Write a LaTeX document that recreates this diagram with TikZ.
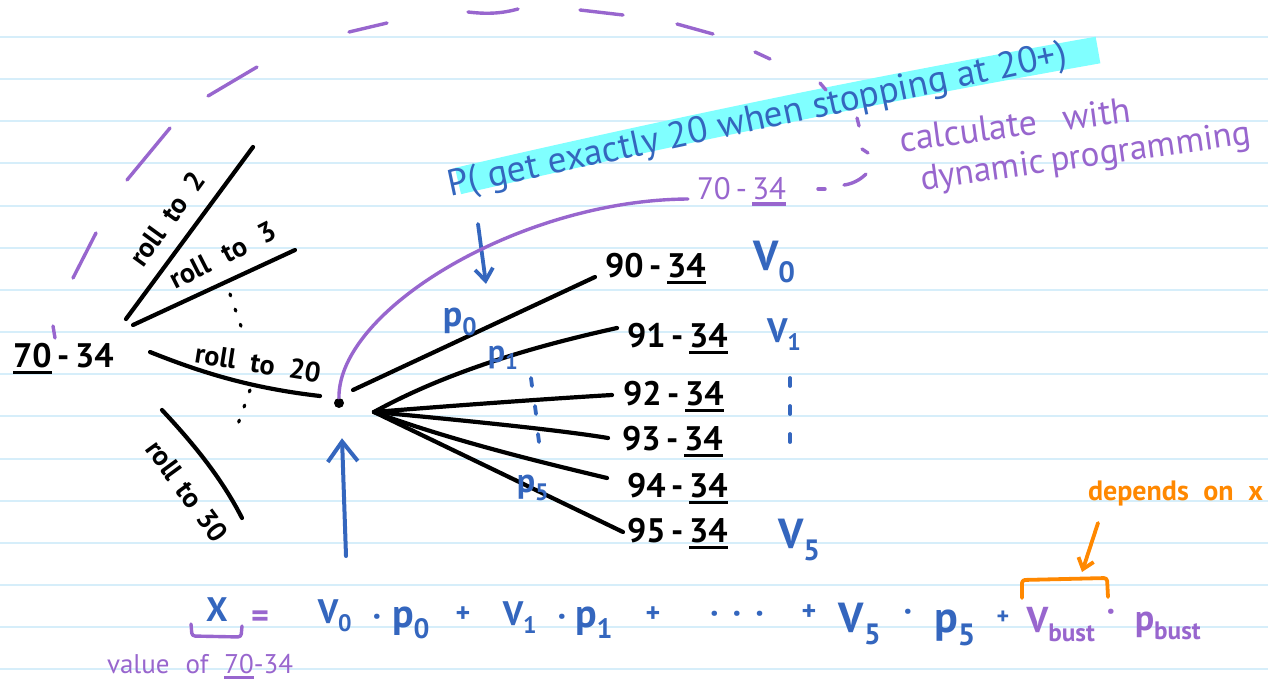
\documentclass[tikz,border=0pt]{standalone}
\usepackage{fontspec}
\setmainfont{PT Sans}
\usetikzlibrary{arrows.meta,calc}
\definecolor{inkb}{RGB}{52,102,190}
\definecolor{inkp}{RGB}{152,102,206}
\definecolor{hilite}{RGB}{128,255,255}
\definecolor{inko}{RGB}{255,136,0}
\definecolor{rulecol}{RGB}{214,238,250}
\newcommand{\mkul}[1]{\setbox0=\hbox{#1}\leavevmode\rlap{\rule[-0.22em]{\wd0}{0.11em}}\box0}
\newcommand{\fs}[1]{\fontsize{#1}{#1}\selectfont}
\newcommand{\mysub}[1]{\textsubscript{#1}}
\newcommand{\wbox}[2]{\makebox[#1][s]{#2}}
\begin{document}
\begin{tikzpicture}[x=1pt,y=-1pt,
  blk/.style={draw=black, line width=4.2pt, line cap=round, line join=round},
  bpen/.style={draw=inkb, line width=3.8pt, line cap=round, line join=round},
  ppen/.style={draw=inkp, line width=3.4pt, line cap=round, line join=round},
  opn/.style={draw=inko, line width=3.8pt, line cap=round, line join=round},
  dotink/.style={line width=3.2pt, line cap=round, dash pattern=on 2pt off 14pt},
  txt/.style={inner sep=0pt, outer sep=0pt},
  blab/.style={txt, font=\bfseries\fs{34}},
  rlab/.style={txt, font=\bfseries\fs{28}},
  btxt/.style={txt, text=inkb, font=\bfseries\fs{34}},
  ptx/.style={txt, text=inkp, font=\fs{30}},
  eqn/.style={txt, anchor=base, font=\bfseries\fs{34}},
]
\fill[white] (0,0) rectangle (1268,686);
\useasboundingbox (0,0) rectangle (1268,686);
\foreach \k in {0,...,15}
  \draw[rulecol, line width=2pt] (0,{37+42.15*\k}) -- (1268,{37+42.15*\k});

% highlight band
\draw[hilite, line width=27pt] (458,181) .. controls (700,125) and (900,85) .. (1098,50);

% ---------- left tree ----------
\node[blab, anchor=base west] (start) at (13,367) {\mkul{70}\,-\,34};
\coordinate (a2) at (126,319); \coordinate (b2) at (253,147);
\coordinate (a3) at (133,325); \coordinate (b3) at (295,250);
\coordinate (a20) at (150,352); \coordinate (b20) at (320,396);
\coordinate (a30) at (162,410); \coordinate (b30) at (242,518);
\draw[blk] (a2) -- (b2);
\draw[blk] (a3) -- (b3);
\draw[blk] (a20) .. controls (200,372) and (250,388) .. (b20);
\draw[blk] (a30) .. controls (190,440) and (220,475) .. (b30);
\node[rlab, rotate=54] (r2) at (167,219) {\wbox{108pt}{roll to 2}};
\node[rlab, rotate=27] (r3) at (223,255) {\wbox{116pt}{roll to 3}};
\node[rlab, rotate=-9] (r20) at (258,363) {\wbox{127pt}{roll to 20}};
\node[rlab, rotate=-54] (r30) at (187,491) {\wbox{118pt}{roll to 30}};
\draw[blk, dotink] (230,294) -- (243,332);
\draw[blk, dotink] (250,390) -- (238,424);

% ---------- hub and fan ----------
\node[circle, fill=black, inner sep=0pt, minimum size=10pt] (dot) at (339,403) {};
\coordinate (hubA) at (353,390);
\coordinate (hub) at (374,412);
\node[blab, anchor=base west] (f0) at (605,277) {90\,-\,\mkul{34}};
\node[blab, anchor=base west] (f1) at (627,347) {91\,-\,\mkul{34}};
\node[blab, anchor=base west] (f2) at (623,405) {92\,-\,\mkul{34}};
\node[blab, anchor=base west] (f3) at (622,450) {93\,-\,\mkul{34}};
\node[blab, anchor=base west] (f4) at (627,497) {94\,-\,\mkul{34}};
\node[blab, anchor=base west] (f5) at (627,542) {95\,-\,\mkul{34}};
\draw[blk] (hubA) -- ($(f0.base west)+(-10,0)$);
\draw[blk] (hub) .. controls (450,370) and (540,345) .. ($(f1.base west)+(-10,-19)$);
\draw[blk] (hub) .. controls (460,405) and (560,398) .. ($(f2.base west)+(-11,-10)$);
\draw[blk] (hub) .. controls (460,420) and (560,430) .. ($(f3.base west)+(-14,-12)$);
\draw[blk] (hub) .. controls (450,440) and (540,462) .. ($(f4.base west)+(-20,-19)$);
\draw[blk] (hub) -- ($(f5.base west)+(-4,-10)$);

% values
\node[btxt, font=\bfseries\fs{42}, anchor=base west] (v0) at (753,270) {V\mysub{0}};
\node[btxt, font=\bfseries\fs{34}, anchor=base west] (v1) at (767,342) {V\mysub{1}};
\node[btxt, font=\bfseries\fs{42}, anchor=base west] (v5) at (778,548) {V\mysub{5}};
\foreach \yy in {382,410,438} \draw[bpen] (790,\yy-4) -- (790,\yy+4);

% probabilities
\node[btxt, font=\bfseries\fs{36}] (p0) at (460,322) {p\mysub{0}};
\node[btxt, font=\bfseries\fs{32}] (p1) at (503,358) {p\mysub{1}};
\node[btxt, font=\bfseries\fs{34}] (p5) at (533,488) {p\mysub{5}};
\foreach \yy/\xx in {382/531,410/535,438/538} \draw[bpen] (\xx,\yy-4) -- (\xx+1,\yy+4);

% ---------- top annotation ----------
\node[btxt, font=\fs{37}, rotate=12, anchor=base west] (ptxt) at (450,196)
  {\wbox{632pt}{P( get exactly 20 when stopping at 20+)}};
\coordinate (dA) at (478,224);
\draw[bpen, -{Straight Barb[length=12pt,width=18pt]}] (dA) -- ($(p0.north)+(26,-24)$);

\node[ptx, font=\fs{36}, anchor=base west, rotate=7.5] (calc1) at (901,152) {\wbox{233pt}{calculate with}};
\node[ptx, font=\fs{35}, anchor=base west, rotate=8] (calc2) at (922,190) {\wbox{333pt}{dynamic programming}};
\node[ptx, font=\fs{31}, anchor=base west] (pl) at (697,199) {70\,-\,\mkul{34}};
\draw[ppen] (dot) .. controls (338,310) and (520,200) .. ($(pl.base west)+(-9,0)$);

% dashed purple arc from 70-34 round to the purple 70-34
\foreach \xa/\ya/\xb/\yb in {53/326/55/338, 73/278/96/233, 127/180/170/128, 208/96/257/67,
   349/32/387/23, 580/10/623/15, 677/24/713/34, 755/52/770/59, 820/83/826/90,
   857/118/859/126, 862/149/868/153, 818/189/825/189}
  \draw[ppen] (\xa,\ya) -- (\xb,\yb);
\draw[ppen] (468,12) .. controls (485,14) and (500,14) .. (518,9);
\draw[ppen] (844,185) .. controls (852,184) and (860,180) .. (866,174);

% ---------- big arrow ----------
\coordinate (uA) at (346,556);
\draw[bpen, line width=4pt, -{Straight Barb[length=20pt,width=30pt]}] (uA) -- ($(dot.south)+(3,30)$);

% ---------- equation ----------
\node[eqn, text=inkb] (eX) at (217,621) {X};
\node[eqn, text=inkp] (eEq) at (260,627) {=};
\node[eqn, text=inkb] (eV0) at (335,623) {V\mysub{0}};
\node[eqn, text=inkb] (eD0) at (377,627) {·};
\node[eqn, text=inkb, font=\bfseries\fs{40}] (eP0) at (411,627) {p\mysub{0}};
\node[eqn, text=inkb, font=\bfseries\fs{28}] (ePa) at (463,622) {+};
\node[eqn, text=inkb] (eV1) at (520,625) {V\mysub{1}};
\node[eqn, text=inkb] (eD1) at (562,627) {·};
\node[eqn, text=inkb, font=\bfseries\fs{40}] (eP1) at (594,627) {p\mysub{1}};
\node[eqn, text=inkb, font=\bfseries\fs{28}] (ePb) at (653,622) {+};
\node[eqn, text=inkb] (eEl) at (737,624) {·\hspace{14pt}·\hspace{14pt}·};
\node[eqn, text=inkb, font=\bfseries\fs{28}] (ePc) at (809,620) {+};
\node[eqn, text=inkb, font=\bfseries\fs{42}] (eV5) at (860,632) {V\mysub{5}};
\node[eqn, text=inkb] (eD5) at (908,622) {·};
\node[eqn, text=inkb, font=\bfseries\fs{44}] (eP5) at (955,632) {p\mysub{5}};
\node[eqn, text=inkb, font=\bfseries\fs{24}] (ePd) at (1003,624) {+};
\node[eqn, text=inkp, font=\bfseries\fs{36}] (eVb) at (1061,632) {V\mysub{bust}};
\node[eqn, text=inkp] (eDb) at (1111,622) {·};
\node[eqn, text=inkp, font=\bfseries\fs{36}] (ePbst) at (1168,630) {p\mysub{bust}};

\draw[ppen, rounded corners=3pt] (191,624) -- (192,636) -- (241,637) -- (242,626);
\node[ptx, font=\fs{27}, anchor=base west] (valof) at (107,673) {\wbox{186pt}{value of \mkul{70}-34}};

\draw[opn, rounded corners=3pt] (1022,598) -- (1022,580) -- (1107,578) -- (1108,597);
\coordinate (brk) at (1082,572);
\node[txt, text=inko, font=\bfseries\fs{28}, anchor=base west] (dep) at (1088,500) {\wbox{175pt}{depends on x}};
\draw[opn, -{Straight Barb[length=10pt,width=16pt]}] ($(dep.base west)+(10,23)$) -- (brk);
\end{tikzpicture}
\end{document}
